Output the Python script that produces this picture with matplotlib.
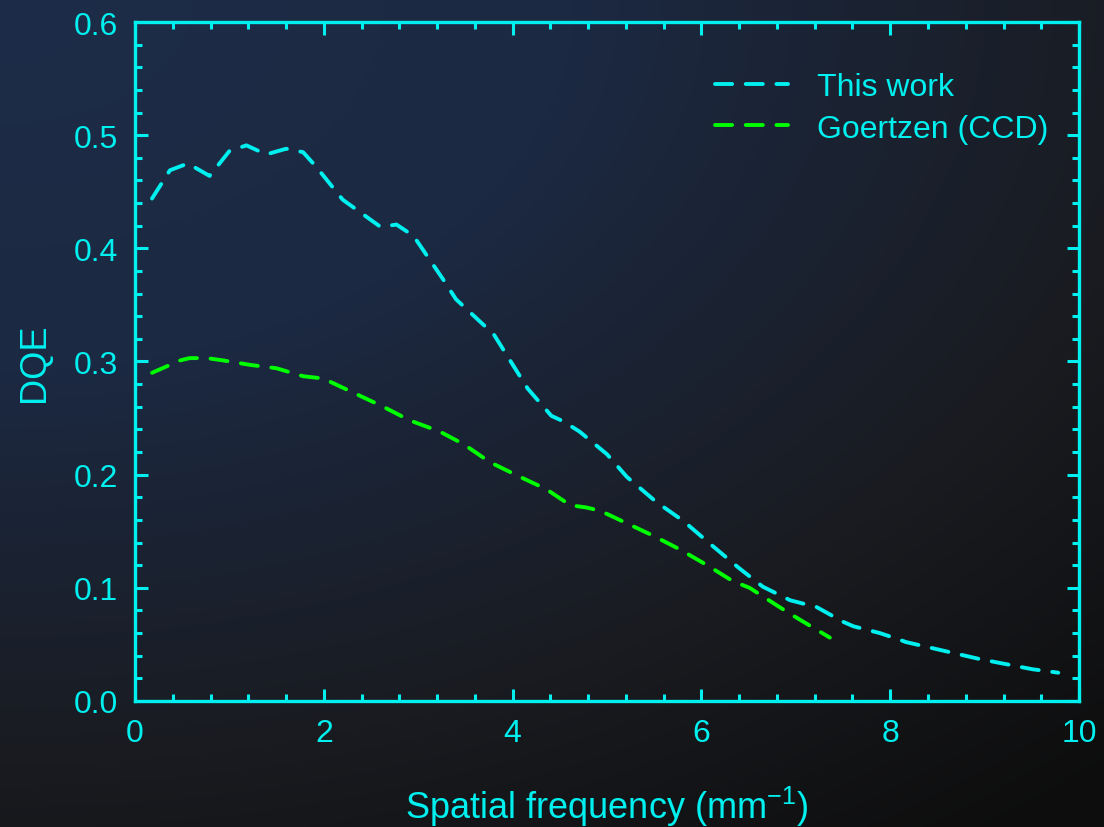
import numpy as np
import matplotlib
matplotlib.use("Agg")
import matplotlib.pyplot as plt
from matplotlib.ticker import MultipleLocator, FormatStrFormatter

# DQE curves
freq_this = [0.18, 0.37, 0.56, 0.79, 1.0, 1.18, 1.39, 1.6, 1.78, 1.92, 2.2, 2.6, 2.77,
             2.95, 3.26, 3.4, 3.8, 4.16, 4.41, 4.54, 4.71, 5.0, 5.21, 5.52, 5.81, 6.09,
             6.39, 6.65, 6.94, 7.22, 7.5, 7.61, 7.89, 8.07, 8.17, 8.95, 9.51, 9.78]
dqe_this = [0.444, 0.469, 0.475, 0.464, 0.486, 0.491, 0.483, 0.488, 0.485, 0.472, 0.443,
            0.419, 0.421, 0.411, 0.373, 0.355, 0.324, 0.276, 0.252, 0.247, 0.238, 0.218,
            0.198, 0.176, 0.159, 0.139, 0.118, 0.101, 0.089, 0.083, 0.070, 0.066, 0.060,
            0.055, 0.052, 0.037, 0.028, 0.025]

freq_ccd = [0.18, 0.48, 0.58, 0.76, 0.93, 1.22, 1.5, 1.78, 1.99, 2.07, 2.35, 2.63, 2.91,
            3.23, 3.48, 3.76, 4.08, 4.36, 4.61, 4.78, 4.93, 5.21, 5.49, 5.77, 6.06, 6.33,
            6.51, 6.64, 6.92, 7.2, 7.36]
dqe_ccd = [0.290, 0.301, 0.303, 0.303, 0.301, 0.297, 0.294, 0.287, 0.285, 0.282, 0.271,
           0.260, 0.248, 0.238, 0.227, 0.211, 0.198, 0.187, 0.173, 0.171, 0.168, 0.157,
           0.146, 0.134, 0.120, 0.106, 0.100, 0.093, 0.078, 0.064, 0.056]

labels = ["This work", "Goertzen (CCD)"]

CYAN = "#00f0f0"
GREEN = "#00ff00"

plt.rcParams["font.family"] = ["Liberation Sans", "DejaVu Sans"]
plt.rcParams["mathtext.fontset"] = "custom"
plt.rcParams["mathtext.rm"] = "Liberation Sans"
plt.rcParams["mathtext.it"] = "Liberation Sans"

fig = plt.figure(figsize=(11.04, 8.28), dpi=100)

# radial background: navy at the upper left fading to near black lower right
bg = fig.add_axes([0, 0, 1, 1], zorder=-10)
gx, gy = np.meshgrid(np.linspace(0, 1, 400), np.linspace(0, 1, 400))
t = np.sqrt((0.95 * gx) ** 2 + (1.1 * gy) ** 2) / np.sqrt(2)
stops = [0.0, 0.35, 0.72, 1.0]
cols = np.array([[0x1d, 0x2c, 0x48], [0x1c, 0x29, 0x42],
                 [0x19, 0x1b, 0x20], [0x0d, 0x0d, 0x0d]]) / 255
img = np.stack([np.interp(t, stops, cols[:, k]) for k in range(3)], axis=-1)
bg.imshow(img, aspect="auto", extent=[0, 1, 0, 1], origin="upper")
bg.axis("off")

ax = fig.add_axes([0.1223, 0.1522, 0.8551, 0.82])
ax.patch.set_alpha(0)

dash = (0, (4.4, 3.5))
ax.plot(freq_this, dqe_this, color=CYAN, lw=2.8, linestyle=dash,
        dash_capstyle="round", dash_joinstyle="round", label=labels[0])
ax.plot(freq_ccd, dqe_ccd, color=GREEN, lw=2.8, linestyle=dash,
        dash_capstyle="round", dash_joinstyle="round", label=labels[1])

ax.set_xlim(0, 10)
ax.set_ylim(0, 0.6)
ax.xaxis.set_major_locator(MultipleLocator(2))
ax.xaxis.set_minor_locator(MultipleLocator(0.4))
ax.yaxis.set_major_locator(MultipleLocator(0.1))
ax.yaxis.set_minor_locator(MultipleLocator(0.02))
ax.yaxis.set_major_formatter(FormatStrFormatter("%.1f"))

for s in ax.spines.values():
    s.set_color(CYAN)
    s.set_linewidth(2.4)
ax.tick_params(which="both", direction="in", top=True, right=True,
               colors=CYAN, labelsize=23, width=2.2)
ax.tick_params(which="major", length=9, pad=12)
ax.tick_params(which="minor", length=5)

ax.set_xlabel("Spatial frequency (mm$^{\\mathregular{-1}}$)", color=CYAN,
              fontsize=26, labelpad=26)
ax.set_ylabel("DQE", color=CYAN, fontsize=26, labelpad=16)

leg = ax.legend(loc="upper right", frameon=False, fontsize=23, handlelength=2.3,
                handletextpad=0.9, labelspacing=0.35,
                bbox_to_anchor=(0.998, 0.968))
for txt in leg.get_texts():
    txt.set_color(CYAN)

fig.savefig("out.png", dpi=100)
